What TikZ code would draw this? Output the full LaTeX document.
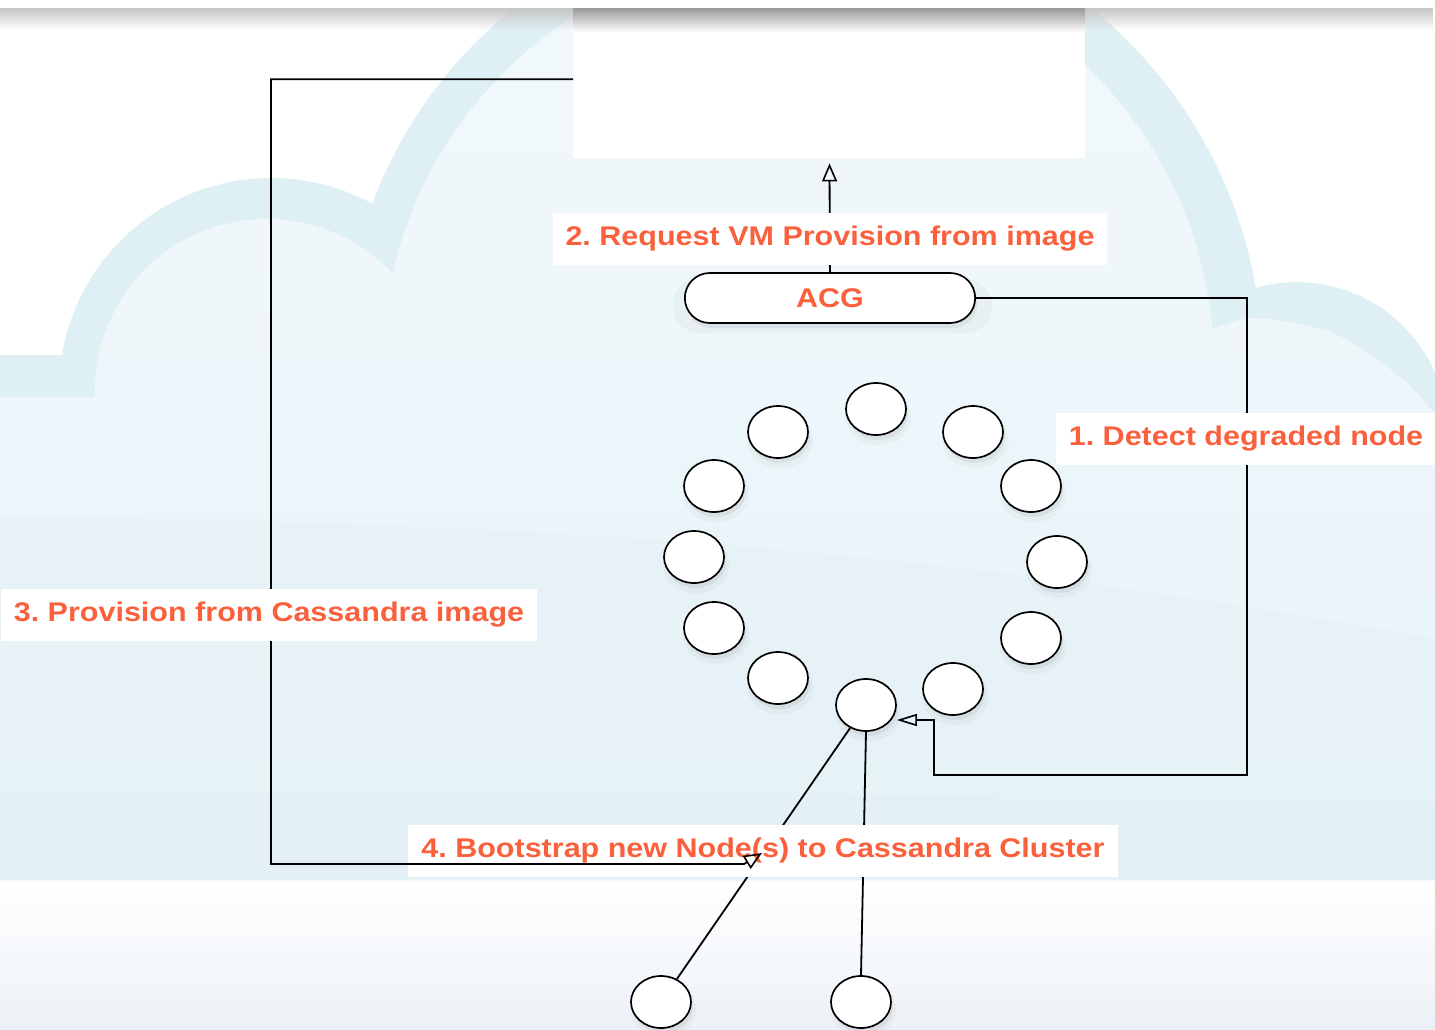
\documentclass[tikz,border=0pt]{standalone}
\usepackage{fontspec}
\setmainfont{Liberation Sans}
\newfontfamily\lblfont[FakeStretch=1.13]{Liberation Sans}
\usetikzlibrary{arrows.meta,shapes.misc,shapes.geometric,shadows,fadings,calc}
\definecolor{lbl}{RGB}{250,96,60}
\definecolor{band}{RGB}{223,240,245}
\definecolor{inA}{RGB}{243,249,252}
\definecolor{inB}{RGB}{231,243,248}
\definecolor{inC}{RGB}{226,239,245}
\definecolor{bgbot}{RGB}{236,241,247}
\begin{document}
\frenchspacing
\begin{tikzpicture}[x=1pt,y=-1pt,
  shadowsoft/.style={drop shadow={opacity=0.06, shadow xshift=2pt, shadow yshift=-7pt, shadow scale=1.1},
                     drop shadow={opacity=0.12, shadow xshift=2pt, shadow yshift=-5pt}},
  cnode/.style={ellipse, draw=black, line width=1.7pt, fill=white, minimum width=60pt, minimum height=52pt, inner sep=0pt, shadowsoft},
  lab/.style={fill=white, text=lbl, font=\lblfont\bfseries\fontsize{27}{30}\selectfont, inner xsep=13pt, inner ysep=0pt, minimum height=52pt},
  conn/.style={draw=black, line width=1.8pt},
  opentip/.style={-{Triangle[open, length=18pt, width=15pt, line width=1.6pt]}}
]
\useasboundingbox (0,0) rectangle (1435,1030);
% ---------- background ----------
\fill[white] (0,0) rectangle (1435,1030);
\shade[top color=white, bottom color=bgbot] (0,880) rectangle (1435,1030);
% cloud outline band
\fill[band] (-5,355) -- (62,355) arc[start angle=170.5, end angle=61.5, radius=212pt]
  arc[start angle=159.3, end angle=9.8, radius=460pt]
  arc[start angle=106, end angle=-12, radius=150pt]
  -- (1445,470) -- (1445,880) -- (-5,880) -- cycle;
% cloud interior
\shade[top color=inA, bottom color=inB] (-5,397) -- (95,397) arc[start angle=182, end angle=43, radius=172pt]
  arc[start angle=167.1, end angle=5, radius=416pt]
  -- plot[smooth] coordinates{(1210,330)(1255,318)(1333,333)(1400,377)(1445,425)}
  -- (1445,880) -- (-5,880) -- cycle;
\fill[inC, opacity=0.35] (-5,518) .. controls (640,520) and (1020,565) .. (1445,640) -- (1445,880) -- (-5,880) -- cycle;
\fill[inC, opacity=0.45] (-5,795) .. controls (500,790) and (1000,795) .. (1445,805) -- (1445,880) -- (-5,880) -- cycle;
\fill[white] (0,0) rectangle (1435,8);
\fill[gray!45, path fading=south] (0,8) rectangle (1435,30);
% ---------- top box ----------
\node[fill=white, minimum width=512pt, minimum height=158pt, inner sep=0pt, anchor=north west] (vm) at (573,0) {};
\fill[gray!80, path fading=south] (573,8) rectangle (1085,32);
% ---------- nodes ----------
\node[rounded rectangle, draw=black, line width=1.7pt, fill=white, minimum width=297pt, minimum height=50pt,
      text=lbl, font=\lblfont\bfseries\fontsize{27}{30}\selectfont, shadowsoft] (acg) at (830,298) {ACG};
\node[cnode] (n1) at (876,409) {};
\node[cnode] (n2) at (973,432) {};
\node[cnode] (n3) at (1031,486) {};
\node[cnode] (n4) at (1057,562) {};
\node[cnode] (n5) at (1031,638) {};
\node[cnode] (n6) at (953,689) {};
\node[cnode] (deg) at (866,705) {};
\node[cnode] (n8) at (778,678) {};
\node[cnode] (n9) at (714,628) {};
\node[cnode] (n10) at (694,557) {};
\node[cnode] (n11) at (714,486) {};
\node[cnode] (n12) at (778,432) {};
\node[cnode] (b1) at (661,1002) {};
\node[cnode] (b2) at (861,1002) {};
% ---------- connectors under labels ----------
\draw[conn, opentip, shorten >=5pt] (acg) -- (vm);
\coordinate (r1) at (1247,775);
\coordinate (r2) at (934,720);
\draw[conn, -{Triangle[open, length=20pt, width=12pt, line width=1.6pt]}] (acg.east) -| (r1) -| (r2) -- (r2 -| deg.east);
\draw[conn] (deg) -- (b1);
\draw[conn] (deg.south) -- (b2.north);
% ---------- label 4 then left loop ----------
\node[lab] (t4) at (763,851) {4. Bootstrap new Node(s) to Cassandra Cluster};
\coordinate (l1) at (271,864);
\coordinate (l2) at (744,864);
\coordinate (l3) at (762,853);
\draw[conn, opentip] (vm.west) -| (l1) -- (l2) -- (l3);
% ---------- other labels ----------
\node[lab] (t1) at (1246,439) {1. Detect degraded node};
\node[lab] (t2) at (830,239) {2. Request VM Provision from image};
\node[lab] (t3) at (269,615) {3. Provision from Cassandra image};
\end{tikzpicture}
\end{document}
